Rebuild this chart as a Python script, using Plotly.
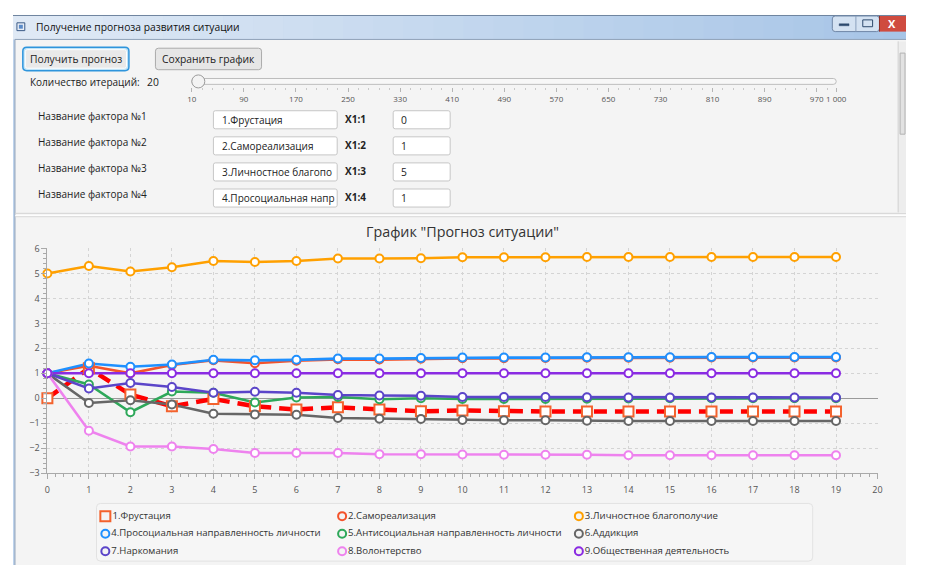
import plotly.graph_objects as go

# The page keeps the browser's 8px body margin, so the figure is sized to fill
# the 925x579 window exactly; reference pixel coordinates are shifted by OFF.
PAGE_W, PAGE_H = 925, 579
OFF = 8
W, H = PAGE_W - 2 * OFF, PAGE_H - 2 * OFF


def X(px):
    return min(max(px - OFF, 0), W) / W


def Y(py):
    return 1 - min(max(py - OFF, 0), H) / H


# ---------------- data ----------------
iterations = list(range(20))
series_names = [
    "1.Фрустация",
    "2.Самореализация",
    "3.Личностное благополучие",
    "4.Просоциальная направленность личности",
    "5.Антисоциальная направленность личности",
    "6.Аддикция",
    "7.Наркомания",
    "8.Волонтерство",
    "9.Общественная деятельность",
]
frustration = [0, 1.2, 0.15, -0.32, -0.03, -0.32, -0.45, -0.36, -0.45, -0.52,
               -0.49, -0.52, -0.53, -0.53, -0.53, -0.53, -0.53, -0.53, -0.53, -0.53]
self_realization = [1, 1.3, 1.0, 1.33, 1.52, 1.40, 1.50, 1.56, 1.55, 1.58,
                    1.60, 1.60, 1.61, 1.62, 1.62, 1.62, 1.63, 1.63, 1.63, 1.63]
wellbeing = [5.0, 5.30, 5.08, 5.25, 5.50, 5.46, 5.50, 5.60, 5.60, 5.61,
             5.65, 5.65, 5.65, 5.66, 5.66, 5.66, 5.66, 5.66, 5.66, 5.66]
prosocial = [1, 1.39, 1.26, 1.35, 1.54, 1.52, 1.54, 1.59, 1.59, 1.61,
             1.63, 1.63, 1.63, 1.64, 1.64, 1.64, 1.65, 1.65, 1.65, 1.65]
antisocial = [1, 0.55, -0.56, 0.27, 0.22, -0.17, 0.03, 0.05, -0.04, 0.0,
              -0.03, -0.03, -0.03, -0.02, -0.01, 0.0, 0.0, 0.0, 0.0, 0.0]
addiction = [1, -0.19, -0.08, -0.25, -0.62, -0.65, -0.66, -0.79, -0.82, -0.83,
             -0.87, -0.88, -0.88, -0.90, -0.91, -0.91, -0.91, -0.91, -0.91, -0.91]
narcomania = [1, 0.39, 0.61, 0.45, 0.22, 0.26, 0.22, 0.13, 0.11, 0.10,
              0.05, 0.05, 0.05, 0.04, 0.03, 0.03, 0.03, 0.03, 0.03, 0.03]
volunteering = [1, -1.30, -1.93, -1.93, -2.03, -2.19, -2.19, -2.19, -2.24, -2.24,
                -2.25, -2.26, -2.26, -2.26, -2.28, -2.28, -2.28, -2.28, -2.28, -2.28]
social_activity = [1, 1, 1, 1, 1, 1, 1, 1, 1, 1,
                   1, 1, 1, 1, 1, 1, 1, 1, 1, 1]

series_values = [frustration, self_realization, wellbeing, prosocial, antisocial,
                 addiction, narcomania, volunteering, social_activity]

iteration_count = 20
slider_ticks = [10, 90, 170, 250, 330, 410, 490, 570, 650, 730, 810, 890, 970, 1000]
slider_tick_text = ["10", "90", "170", "250", "330", "410", "490", "570", "650",
                    "730", "810", "890", "970", "1 000"]
factor_labels = ["Название фактора №1", "Название фактора №2",
                 "Название фактора №3", "Название фактора №4"]
factor_fields = ["1.Фрустация", "2.Самореализация", "3.Личностное благопо",
                 "4.Просоциальная напр"]
coef_labels = ["X1:1", "X1:2", "X1:3", "X1:4"]
coef_values = ["0", "1", "5", "1"]

# ---------------- styles ----------------
line_colors = ["#ff0000", "#f4532b", "#ffa000", "#1e90ff", "#2ea85a",
               "#666666", "#5b45c9", "#ee82ee", "#8a2be2"]
marker_colors = ["#f3622d", "#f4532b", "#ffa000", "#1e90ff", "#2ea85a",
                 "#666666", "#5b45c9", "#ee82ee", "#8a2be2"]
FONT = "Open Sans"
BG = "#f4f4f4"

fig = go.Figure()

for i, (name, vals) in enumerate(zip(series_names, series_values)):
    fig.add_trace(go.Scatter(
        x=iterations, y=vals, mode="lines", name=name, showlegend=False,
        line=dict(color=line_colors[i], width=4.5 if i == 0 else 2.6,
                  dash="13px,8px" if i == 0 else "solid"),
        hoverinfo="skip",
    ))
for i, (name, vals) in enumerate(zip(series_names, series_values)):
    fig.add_trace(go.Scatter(
        x=iterations, y=vals, mode="markers", name=name, cliponaxis=False,
        showlegend=False,
        marker=dict(symbol="square" if i == 0 else "circle",
                    size=10 if i == 0 else 8, color="#ffffff",
                    line=dict(color=marker_colors[i], width=2)),
    ))

# legend entries (3 columns x 3 rows) on their own hidden axes
for i, name in enumerate(series_names):
    fig.add_trace(go.Scatter(
        x=[i % 3], y=[i // 3], xaxis="x3", yaxis="y3", mode="markers+text",
        text=[name], textposition="middle right", cliponaxis=False,
        showlegend=False, hoverinfo="skip",
        textfont=dict(family=FONT, size=9.6, color="#333333"),
        marker=dict(symbol="square" if i == 0 else "circle",
                    size=10 if i == 0 else 8, color=BG,
                    line=dict(color=marker_colors[i], width=2)),
    ))

# slider thumb (iteration count)
fig.add_trace(go.Scatter(
    x=[iteration_count], y=[0.5], xaxis="x2", yaxis="y2", mode="markers",
    showlegend=False, cliponaxis=False, hoverinfo="skip",
    marker=dict(symbol="circle", size=13, color="#f3f3f3",
                line=dict(color="#9b9b9b", width=1)),
))

# ---------------- chrome shapes ----------------
shapes = []


def rect(x0, y0, x1, y1, fill, line=None, lw=0):
    shapes.append(dict(type="rect", xref="paper", yref="paper",
                       x0=X(x0), x1=X(x1), y0=Y(y1), y1=Y(y0),
                       fillcolor=fill, layer="below",
                       line=dict(color=line or fill, width=lw)))


def rrect(x0, y0, x1, y1, r, fill, line, lw=1):
    p = (f"M {X(x0 + r)},{Y(y0)} L {X(x1 - r)},{Y(y0)} Q {X(x1)},{Y(y0)} {X(x1)},{Y(y0 + r)} "
         f"L {X(x1)},{Y(y1 - r)} Q {X(x1)},{Y(y1)} {X(x1 - r)},{Y(y1)} "
         f"L {X(x0 + r)},{Y(y1)} Q {X(x0)},{Y(y1)} {X(x0)},{Y(y1 - r)} "
         f"L {X(x0)},{Y(y0 + r)} Q {X(x0)},{Y(y0)} {X(x0 + r)},{Y(y0)} Z")
    shapes.append(dict(type="path", xref="paper", yref="paper", path=p,
                       fillcolor=fill, layer="below",
                       line=dict(color=line, width=lw)))


def hline(x0, x1, y, color, lw=1):
    shapes.append(dict(type="line", xref="paper", yref="paper",
                       x0=X(x0), x1=X(x1), y0=Y(y), y1=Y(y), layer="below",
                       line=dict(color=color, width=lw)))


def vline(x, y0, y1, color, lw=1):
    shapes.append(dict(type="line", xref="paper", yref="paper",
                       x0=X(x), x1=X(x), y0=Y(y0), y1=Y(y1), layer="below",
                       line=dict(color=color, width=lw)))


def mix(c1, c2, t):
    a = [int(c1[k:k + 2], 16) for k in (1, 3, 5)]
    b = [int(c2[k:k + 2], 16) for k in (1, 3, 5)]
    return "#" + "".join(f"{round(a[j] + (b[j] - a[j]) * t):02x}" for j in range(3))


# window frame
rect(8, 8, 925, 579, "#bed3ec")
n_strips = 30
for s in range(n_strips):
    t = s / (n_strips - 1)
    xa = 8 + (925 - 8) * s / n_strips
    xb = min(8 + (925 - 8) * (s + 1) / n_strips + 0.5, 925)
    rect(xa, 8, xb, 33, mix("#dfe9f5", "#a7c5e7", t))
hline(8, 925, 8.5, "#6f849f", 1)
# content area
rect(10, 33, 925, 574, BG)
vline(10, 33, 574, "#8fa1b8", 1)
hline(10, 925, 33, "#8fa1b8", 1)
# separator between panels
hline(10, 925, 211, "#d3d3d3", 1)
hline(10, 925, 213, "#ffffff", 1)
hline(10, 925, 214.5, "#d8d8d8", 1)
# scrollbar
rect(909, 35, 917, 210, "#ededed")
vline(909, 35, 210, "#d0d0d0", 1)
rect(911, 47, 916, 130, "#e2e2e2", "#b3b3b3", 1)
# window icon
rect(12, 16, 20, 24, "#e8eef6", "#3a5a86", 1)
rect(14, 18, 18, 22, "#5a8ac8")
# window buttons
rrect(842, 9, 890, 25, 3, "#d4e2f2", "#6f86a6", 1)
vline(866, 9, 25, "#8aa0bd", 1)
rect(890, 9, 925, 25, "#cf4b3f")
vline(890, 9, 25, "#8e2f28", 1)
rect(849, 17, 859, 19, "#2e4a6e", "#2e4a6e", 0.5)
rect(873, 13, 883, 20, "rgba(0,0,0,0)", "#2e4a6e", 1)
# buttons
rrect(18, 41, 126, 65, 4, "#bfe3f7", "#2f95dc", 1.5)
rrect(20.5, 43.5, 123.5, 62.5, 2, "#e9e9e9", "#ffffff", 1)
rrect(153, 42, 261, 64, 3, "#e6e6e6", "#ababab", 1)
# slider track
rrect(190, 73, 846, 79, 3, "#f7f7f7", "#bdbdbd", 1)
# factor text fields
for k in range(4):
    y0 = 106 + 26.7 * k
    rrect(212, y0, 338, y0 + 18.5, 2, "#ffffff", "#c6c6c6", 1)
    rrect(395, y0, 453, y0 + 18.5, 2, "#ffffff", "#c6c6c6", 1)
# legend box
rrect(93, 508, 822, 567, 4, "#f6f6f6", "#e2e2e2", 1)

# ---------------- annotations ----------------
ann = []


def text(x, y, s, size=11, color="#222222", anchor="left"):
    ann.append(dict(xref="paper", yref="paper", x=X(x), y=Y(y), text=s,
                    showarrow=False, xanchor=anchor, yanchor="middle",
                    font=dict(family=FONT, size=size, color=color)))


text(29, 20, "Получение прогноза развития ситуации", 10.3, "#111111")
text(903, 17, "<b>X</b>", 11, "#ffffff", "center")
text(72, 53, "Получить прогноз", 10.3, "#222222", "center")
text(207, 53, "Сохранить график", 10.3, "#222222", "center")
text(23, 77, "Количество итераций:", 10)
text(142, 77, str(iteration_count), 10.3)
for k in range(4):
    yc = 115 + 26.7 * k
    text(31, yc - 4, factor_labels[k], 10)
    text(219, yc, factor_fields[k], 10)
    text(357, yc - 1, "<b>" + coef_labels[k] + "</b>", 10, "#222222", "center")
    text(401, yc, coef_values[k], 10.3)
text(466, 230, 'График "Прогноз ситуации"', 14.3, "#333333", "center")

grid_col = "#d4d4d4"
axis_col = "#a9a9a9"
tick_font = dict(family=FONT, size=9, color="#555555")

fig.update_layout(
    width=W, height=H,
    margin=dict(l=0, r=0, t=0, b=0),
    paper_bgcolor="#ffffff",
    plot_bgcolor=BG,
    shapes=shapes,
    annotations=ann,
    font=dict(family=FONT, color="#333333"),
    showlegend=False,
    xaxis=dict(domain=[X(43), X(888)], range=[0, 20], dtick=1, tick0=0,
               showgrid=True, gridcolor=grid_col, griddash="3px,3px", gridwidth=1,
               zeroline=False, showline=True, linecolor=axis_col, linewidth=1,
               ticks="outside", ticklen=5, tickcolor=axis_col, tickfont=tick_font,
               ticklabelstandoff=3,
               minor=dict(ticks="outside", ticklen=3, dtick=0.2, tick0=0,
                          tickcolor=axis_col, showgrid=False),
               anchor="y"),
    yaxis=dict(domain=[Y(477), Y(247)], range=[-3, 6], dtick=1, tick0=0,
               showgrid=True, gridcolor=grid_col, griddash="3px,3px", gridwidth=1,
               zeroline=True, zerolinecolor="#9a9a9a", zerolinewidth=1,
               showline=True, linecolor=axis_col, linewidth=1,
               ticks="outside", ticklen=5, tickcolor=axis_col, tickfont=tick_font,
               minor=dict(ticks="outside", ticklen=3, dtick=0.2, tick0=0,
                          tickcolor=axis_col, showgrid=False),
               anchor="x"),
    xaxis2=dict(domain=[X(190), X(846)], range=[10, 1000], anchor="y2",
                tickmode="array", tickvals=slider_ticks, ticktext=slider_tick_text,
                showgrid=False, zeroline=False, showline=False,
                ticks="outside", ticklen=4, tickcolor="#b5b5b5",
                tickfont=dict(family=FONT, size=8, color="#555555"),
                minor=dict(ticks="outside", ticklen=2, dtick=16, tick0=10,
                           tickcolor="#c8c8c8", showgrid=False)),
    yaxis2=dict(domain=[Y(82), Y(70)], range=[0, 1], anchor="x2", visible=False),
    xaxis3=dict(domain=[X(102), X(584)], range=[0, 2], anchor="y3", visible=False),
    yaxis3=dict(domain=[Y(557), Y(521)], range=[2, 0], anchor="x3", visible=False),
)

fig.write_html("out.html", config={"displayModeBar": False})
